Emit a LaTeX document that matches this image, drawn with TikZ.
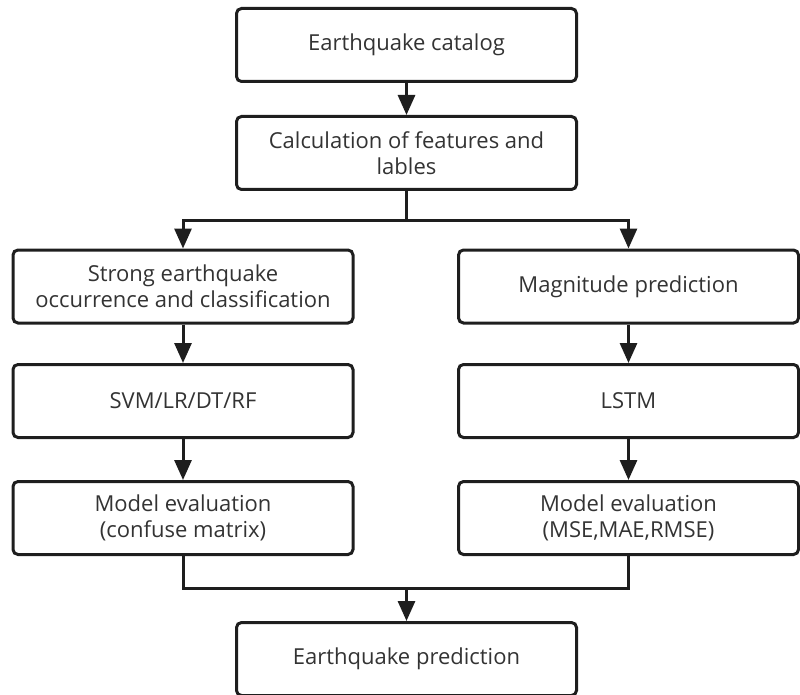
\documentclass[tikz,border=0pt]{standalone}
\usepackage{fontspec}
\setmainfont{Open Sans}
\usepackage{xcolor}
\usetikzlibrary{positioning,arrows.meta}

\definecolor{boxline}{HTML}{1E1E1E}
\definecolor{boxtext}{HTML}{333333}

\tikzset{
  stage/.style={draw=boxline, line width=3pt, rounded corners=5pt,
    minimum width=340pt, minimum height=73pt, align=center,
    text=boxtext, font=\fontsize{22}{26}\selectfont},
  flow/.style={draw=boxline, line width=3pt},
  arr/.style={flow, -{Triangle[length=20pt,width=17pt]}}
}

\begin{document}
\begin{tikzpicture}[x=1pt, y=-1pt]
\useasboundingbox (0,0) rectangle (800,695);

% main column
\node[stage] (catalog) at (406.5,45) {Earthquake catalog};
\node[stage] (calc) at (406.5,153) {Calculation of features and\\lables};

% classification branch
\node[stage] (strong) at (183,286.5) {Strong earthquake\\occurrence and classification};
\node[stage] (svm) at (183,401) {SVM/LR/DT/RF};
\node[stage] (evalL) at (183,518) {Model evaluation\\(confuse matrix)};

% magnitude branch
\node[stage] (magn) at (628.5,286.5) {Magnitude prediction};
\node[stage] (lstm) at (628.5,401) {LSTM};
\node[stage] (evalR) at (628.5,518) {Model evaluation\\(MSE,MAE,RMSE)};

\node[stage] (pred) at (406.5,659) {Earthquake prediction};

\coordinate (split) at (406.5,220);
\coordinate (merge) at (406.5,588);

\draw[arr] (catalog) -- (calc);
\draw[flow] (calc) -- (split);
\draw[arr] (split) -| (strong);
\draw[arr] (split) -| (magn);

\draw[arr] (strong) -- (svm);
\draw[arr] (svm) -- (evalL);
\draw[arr] (magn) -- (lstm);
\draw[arr] (lstm) -- (evalR);

\draw[flow] (evalL) |- (merge);
\draw[flow] (evalR) |- (merge);
\draw[arr] (merge) -- (pred);
\end{tikzpicture}
\end{document}
